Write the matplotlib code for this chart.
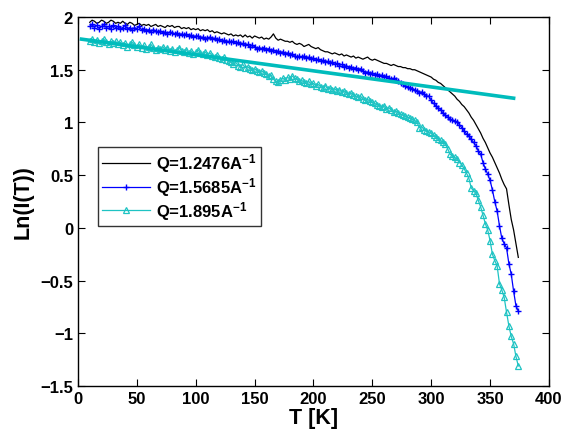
import matplotlib
matplotlib.use("Agg")
import matplotlib.pyplot as plt
from matplotlib.ticker import FuncFormatter

# Data (T in K, Ln(I(T))), one row = 20 K
T = [10, 12, 14, 16, 18, 20, 22, 24, 26, 28,
     30, 32, 34, 36, 38, 40, 42, 44, 46, 48,
     50, 52, 54, 56, 58, 60, 62, 64, 66, 68,
     70, 72, 74, 76, 78, 80, 82, 84, 86, 88,
     90, 92, 94, 96, 98, 100, 102, 104, 106, 108,
     110, 112, 114, 116, 118, 120, 122, 124, 126, 128,
     130, 132, 134, 136, 138, 140, 142, 144, 146, 148,
     150, 152, 154, 156, 158, 160, 162, 164, 166, 168,
     170, 172, 174, 176, 178, 180, 182, 184, 186, 188,
     190, 192, 194, 196, 198, 200, 202, 204, 206, 208,
     210, 212, 214, 216, 218, 220, 222, 224, 226, 228,
     230, 232, 234, 236, 238, 240, 242, 244, 246, 248,
     250, 252, 254, 256, 258, 260, 262, 264, 266, 268,
     270, 272, 274, 276, 278, 280, 282, 284, 286, 288,
     290, 292, 294, 296, 298, 300, 302, 304, 306, 308,
     310, 312, 314, 316, 318, 320, 322, 324, 326, 328,
     330, 332, 334, 336, 338, 340, 342, 344, 346, 348,
     350, 352, 354, 356, 358, 360, 362, 364, 366, 368,
     370, 372, 374]

q1 = [1.95, 1.97, 1.96, 1.94, 1.95, 1.97, 1.96, 1.94, 1.95, 1.97,
      1.96, 1.94, 1.95, 1.94, 1.96, 1.94, 1.93, 1.95, 1.94, 1.92,
      1.93, 1.94, 1.92, 1.93, 1.92, 1.93, 1.91, 1.92, 1.93, 1.91,
      1.92, 1.91, 1.90, 1.92, 1.91, 1.92, 1.90, 1.91, 1.91, 1.89,
      1.90, 1.89, 1.90, 1.88, 1.89, 1.88, 1.89, 1.87, 1.88, 1.87,
      1.88, 1.86, 1.87, 1.85, 1.86, 1.85, 1.84, 1.85, 1.84, 1.83,
      1.84, 1.82, 1.83, 1.82, 1.83, 1.81, 1.83, 1.81, 1.82, 1.80,
      1.82, 1.81, 1.80, 1.81, 1.79, 1.80, 1.79, 1.81, 1.84, 1.80,
      1.78, 1.79, 1.78, 1.77, 1.77, 1.76, 1.77, 1.75, 1.74, 1.75,
      1.74, 1.72, 1.73, 1.74, 1.72, 1.71, 1.70, 1.71, 1.69, 1.68,
      1.67, 1.67, 1.66, 1.65, 1.66, 1.65, 1.64, 1.65, 1.63, 1.64,
      1.63, 1.62, 1.63, 1.61, 1.62, 1.61, 1.60, 1.61, 1.62, 1.60,
      1.59, 1.60, 1.59, 1.58, 1.57, 1.56, 1.56, 1.55, 1.54, 1.55,
      1.54, 1.53, 1.53, 1.52, 1.52, 1.51, 1.51, 1.50, 1.50, 1.49,
      1.48, 1.47, 1.46, 1.45, 1.44, 1.43, 1.41, 1.40, 1.38, 1.37,
      1.35, 1.33, 1.31, 1.29, 1.27, 1.25, 1.22, 1.20, 1.17, 1.15,
      1.12, 1.09, 1.05, 1.02, 0.98, 0.94, 0.90, 0.85, 0.81, 0.76,
      0.71, 0.67, 0.62, 0.57, 0.52, 0.46, 0.41, 0.37, 0.22, 0.08,
      -0.02, -0.15, -0.28]

q2 = [1.91, 1.93, 1.90, 1.92, 1.89, 1.91, 1.93, 1.90, 1.91, 1.89,
      1.92, 1.90, 1.91, 1.89, 1.90, 1.92, 1.89, 1.90, 1.88, 1.90,
      1.89, 1.91, 1.88, 1.89, 1.87, 1.88, 1.86, 1.88, 1.87, 1.86,
      1.87, 1.85, 1.86, 1.84, 1.86, 1.85, 1.84, 1.85, 1.83, 1.84,
      1.83, 1.84, 1.82, 1.83, 1.81, 1.82, 1.82, 1.80, 1.81, 1.79,
      1.80, 1.81, 1.79, 1.80, 1.78, 1.79, 1.77, 1.78, 1.76, 1.77,
      1.76, 1.77, 1.75, 1.76, 1.74, 1.75, 1.73, 1.74, 1.72, 1.73,
      1.72, 1.70, 1.71, 1.70, 1.71, 1.69, 1.70, 1.68, 1.69, 1.67,
      1.68, 1.66, 1.67, 1.65, 1.66, 1.64, 1.65, 1.63, 1.62, 1.63,
      1.62, 1.63, 1.61, 1.62, 1.60, 1.61, 1.59, 1.60, 1.58, 1.59,
      1.57, 1.58, 1.56, 1.57, 1.55, 1.56, 1.54, 1.55, 1.53, 1.54,
      1.52, 1.53, 1.51, 1.52, 1.50, 1.51, 1.49, 1.47, 1.48, 1.46,
      1.47, 1.45, 1.46, 1.44, 1.45, 1.43, 1.44, 1.42, 1.41, 1.42,
      1.40, 1.39, 1.37, 1.36, 1.35, 1.34, 1.33, 1.32, 1.31, 1.30,
      1.28, 1.29, 1.27, 1.25, 1.25, 1.21, 1.18, 1.16, 1.14, 1.12,
      1.09, 1.07, 1.05, 1.03, 1.02, 1.01, 1.00, 0.98, 0.95, 0.92,
      0.89, 0.87, 0.84, 0.81, 0.78, 0.73, 0.70, 0.62, 0.56, 0.51,
      0.45, 0.36, 0.25, 0.16, 0.02, -0.10, -0.15, -0.19, -0.34, -0.44,
      -0.60, -0.74, -0.79]

q3 = [1.77, 1.79, 1.76, 1.78, 1.75, 1.77, 1.79, 1.76, 1.74, 1.77,
      1.75, 1.77, 1.74, 1.76, 1.73, 1.75, 1.72, 1.74, 1.76, 1.73,
      1.72, 1.74, 1.71, 1.73, 1.70, 1.72, 1.74, 1.71, 1.69, 1.71,
      1.70, 1.72, 1.69, 1.71, 1.68, 1.70, 1.67, 1.69, 1.71, 1.68,
      1.67, 1.69, 1.66, 1.68, 1.65, 1.67, 1.69, 1.66, 1.65, 1.67,
      1.64, 1.66, 1.63, 1.62, 1.64, 1.61, 1.60, 1.62, 1.59, 1.58,
      1.57, 1.55, 1.57, 1.54, 1.53, 1.55, 1.52, 1.53, 1.51, 1.50,
      1.51, 1.49, 1.48, 1.49, 1.47, 1.46, 1.44, 1.45, 1.41, 1.39,
      1.38, 1.40, 1.42, 1.40, 1.43, 1.41, 1.44, 1.42, 1.41, 1.39,
      1.40, 1.38, 1.37, 1.39, 1.36, 1.37, 1.35, 1.36, 1.34, 1.33,
      1.35, 1.32, 1.33, 1.31, 1.32, 1.30, 1.31, 1.29, 1.30, 1.28,
      1.27, 1.28, 1.26, 1.25, 1.24, 1.25, 1.22, 1.21, 1.22, 1.20,
      1.19, 1.18, 1.17, 1.16, 1.15, 1.16, 1.13, 1.14, 1.12, 1.10,
      1.11, 1.09, 1.08, 1.07, 1.06, 1.05, 1.04, 1.03, 1.02, 1.00,
      0.95, 0.96, 0.93, 0.92, 0.91, 0.90, 0.88, 0.86, 0.84, 0.83,
      0.81, 0.80, 0.75, 0.70, 0.68, 0.67, 0.65, 0.62, 0.60, 0.56,
      0.52, 0.47, 0.38, 0.35, 0.33, 0.26, 0.20, 0.12, 0.04, -0.02,
      -0.12, -0.25, -0.31, -0.36, -0.53, -0.59, -0.66, -0.80, -0.93, -1.03,
      -1.10, -1.22, -1.31]

# straight fit line drawn over the Q=1.895 data
fit_T = [3, 370]
fit_y = [1.79, 1.23]

labels = [r'Q=1.2476A$^{-1}$', r'Q=1.5685A$^{-1}$', r'Q=1.895A$^{-1}$']

plt.rcParams['font.family'] = ['Liberation Sans', 'DejaVu Sans']
plt.rcParams['font.weight'] = 'bold'
plt.rcParams['mathtext.fontset'] = 'custom'
plt.rcParams['mathtext.rm'] = 'Liberation Sans:bold'
plt.rcParams['mathtext.bf'] = 'Liberation Sans:bold'
plt.rcParams['mathtext.default'] = 'bf'

fig = plt.figure(figsize=(5.63, 4.35), dpi=100)
ax = fig.add_axes([0.1385, 0.1103, 0.8365, 0.8483])

cyan = '#1ec3c3'
ax.plot(T, q1, color='black', linewidth=0.9, label=labels[0])
ax.plot(T, q2, color='blue', linewidth=0.9, marker='+', markersize=5,
        markeredgewidth=1.0, label=labels[1])
ax.plot(T, q3, color=cyan, linewidth=0.9, marker='^', markersize=4.5,
        markerfacecolor='none', markeredgewidth=0.9, label=labels[2])
ax.plot(fit_T, fit_y, color='#00bcbc', linewidth=2.6)

ax.set_xlim(0, 400)
ax.set_ylim(-1.5, 2)
ax.set_xticks([0, 50, 100, 150, 200, 250, 300, 350, 400])
ax.set_yticks([-1.5, -1, -0.5, 0, 0.5, 1, 1.5, 2])
fmt = FuncFormatter(lambda v, p: f'{v:g}'.replace('-', '\u2212'))
ax.yaxis.set_major_formatter(fmt)
ax.xaxis.set_major_formatter(fmt)
ax.tick_params(direction='in', top=True, right=True, length=5, width=0.8,
               labelsize=12, pad=3.5)
for s in ax.spines.values():
    s.set_linewidth(1.0)

ax.set_xlabel('T [K]', fontsize=15.5, fontweight='bold', labelpad=1)
ax.set_ylabel('Ln(I(T))', fontsize=15.5, fontweight='bold', labelpad=5)

leg = ax.legend(loc='upper left', bbox_to_anchor=(0.042, 0.647), fontsize=12,
                frameon=True, fancybox=False, edgecolor='black',
                handlelength=2.9, borderpad=0.25, labelspacing=0.05,
                handletextpad=0.35, borderaxespad=0)
leg.get_frame().set_linewidth(1.0)

fig.savefig('out.png', dpi=100)
